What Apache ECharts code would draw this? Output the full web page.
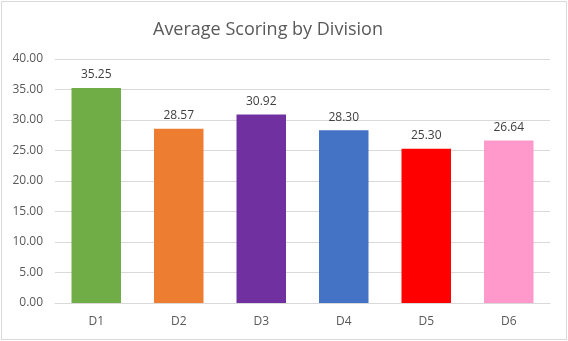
<!DOCTYPE html>
<html>
<head>
<meta charset="utf-8">
<script src="https://cdn.jsdelivr.net/npm/echarts@6/dist/echarts.min.js"></script>
<style>
  html, body { margin: 0; padding: 0; background: #fff; }
  #frame { position: absolute; left: 1px; top: 1px; width: 564px; height: 337px; border: 1px solid #d9d9d9; box-sizing: content-box; }
  #chart { position: absolute; left: 0; top: 0; width: 568px; height: 341px; }
</style>
</head>
<body>
<div id="frame"></div>
<div id="chart"></div>
<script>
const divisions = ['D1', 'D2', 'D3', 'D4', 'D5', 'D6'];
const avgScores = [35.25, 28.57, 30.92, 28.30, 25.30, 26.64];
const barColors = ['#70AD47', '#ED7D31', '#7030A0', '#4472C4', '#FF0000', '#FF99CC'];

const font = '"Open Sans", "Noto Sans", sans-serif';
const chart = echarts.init(document.getElementById('chart'), null, { renderer: 'canvas' });
chart.setOption({
  animation: false,
  title: {
    text: 'Average Scoring by Division',
    left: 148,
    top: 16,
    textStyle: { fontFamily: font, fontSize: 18, fontWeight: 'normal', color: '#595959' }
  },
  grid: { left: 55, right: 18, top: 59, bottom: 38 },
  xAxis: {
    type: 'category',
    data: divisions,
    axisLine: { lineStyle: { color: '#d9d9d9' } },
    axisTick: { show: false },
    axisLabel: { color: '#595959', fontFamily: font, fontSize: 12, margin: 13 }
  },
  yAxis: {
    type: 'value',
    min: 0,
    max: 40,
    interval: 5,
    axisLine: { show: false },
    axisTick: { show: false },
    splitLine: { lineStyle: { color: '#d9d9d9' } },
    axisLabel: {
      color: '#595959', fontFamily: font, fontSize: 12, margin: 12,
      formatter: v => v.toFixed(2)
    }
  },
  series: [{
    type: 'bar',
    barWidth: '60%',
    data: avgScores.map((v, i) => ({ value: v, itemStyle: { color: barColors[i] } })),
    label: {
      show: true,
      position: 'top',
      distance: 7,
      color: '#404040',
      fontFamily: font,
      fontSize: 12,
      formatter: p => p.value.toFixed(2)
    }
  }]
});
</script>
</body>
</html>
